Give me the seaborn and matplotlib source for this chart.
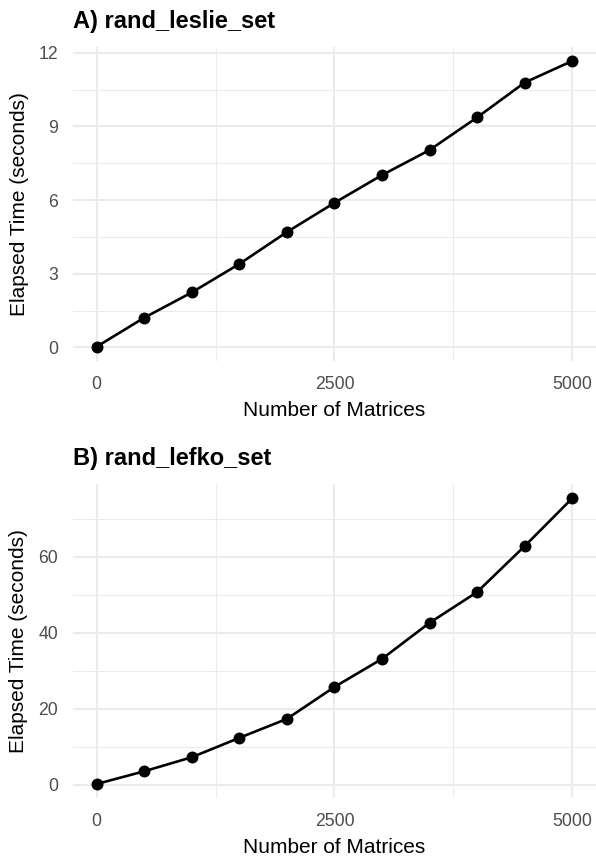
import matplotlib
matplotlib.use("Agg")
import matplotlib.pyplot as plt
import seaborn as sns
import pandas as pd
from matplotlib.ticker import FixedLocator

# Benchmark timings: elapsed seconds vs. number of matrices generated
n_matrices = [0, 500, 1000, 1500, 2000, 2500, 3000, 3500, 4000, 4500, 5000]
leslie_secs = [0.03, 1.21, 2.24, 3.40, 4.70, 5.89, 7.02, 8.04, 9.37, 10.79, 11.67]
lefko_secs = [0.15, 3.5, 7.2, 12.3, 17.3, 25.7, 33.1, 42.6, 50.7, 62.8, 75.4]

panel_titles = ["A) rand_leslie_set", "B) rand_lefko_set"]
x_label = "Number of Matrices"
y_label = "Elapsed Time (seconds)"

x_ticks = [0, 2500, 5000]
x_minor = [1250, 3750]
leslie_yticks = [0, 3, 6, 9, 12]
leslie_yminor = [1.5, 4.5, 7.5, 10.5]
lefko_yticks = [0, 20, 40, 60]
lefko_yminor = [10, 30, 50, 70]

sns.set_theme(style="white")
plt.rcParams["font.family"] = ["Liberation Sans", "DejaVu Sans"]

fig = plt.figure(figsize=(5.96, 8.58), dpi=100)
ax_a = fig.add_axes([0.1223, 0.5793, 0.8777, 0.3663])
ax_b = fig.add_axes([0.1223, 0.0696, 0.8777, 0.3663])

panels = [
    (ax_a, leslie_secs, leslie_yticks, leslie_yminor, panel_titles[0]),
    (ax_b, lefko_secs, lefko_yticks, lefko_yminor, panel_titles[1]),
]

for ax, secs, yt, ym, title in panels:
    df = pd.DataFrame({"matrices": n_matrices, "seconds": secs})
    sns.lineplot(data=df, x="matrices", y="seconds", ax=ax, color="black",
                 linewidth=1.9, marker="o", markersize=8.6,
                 markeredgewidth=0, markerfacecolor="black")
    ax.margins(x=0.05, y=0.05)
    ax.xaxis.set_major_locator(FixedLocator(x_ticks))
    ax.xaxis.set_minor_locator(FixedLocator(x_minor))
    ax.yaxis.set_major_locator(FixedLocator(yt))
    ax.yaxis.set_minor_locator(FixedLocator(ym))
    ax.set_xticklabels([str(v) for v in x_ticks])
    ax.set_yticklabels([str(v) for v in yt])

    ax.set_axisbelow(True)
    ax.grid(which="major", color="#EBEBEB", linewidth=1.45)
    ax.grid(which="minor", color="#EBEBEB", linewidth=0.75)
    for sp in ax.spines.values():
        sp.set_visible(False)
    ax.set_facecolor("white")
    ax.tick_params(which="both", length=0, labelsize=12.7,
                   labelcolor="#4D4D4D", pad=10.8)

    ax.set_xlabel(x_label, fontsize=15, color="black", labelpad=5.5)
    ax.set_ylabel(y_label, fontsize=15, color="black", labelpad=7)
    ax.set_title(title, loc="left", fontsize=17, fontweight="bold",
                 color="black", pad=13.7)

fig.savefig("out.png", dpi=100, facecolor="white")
